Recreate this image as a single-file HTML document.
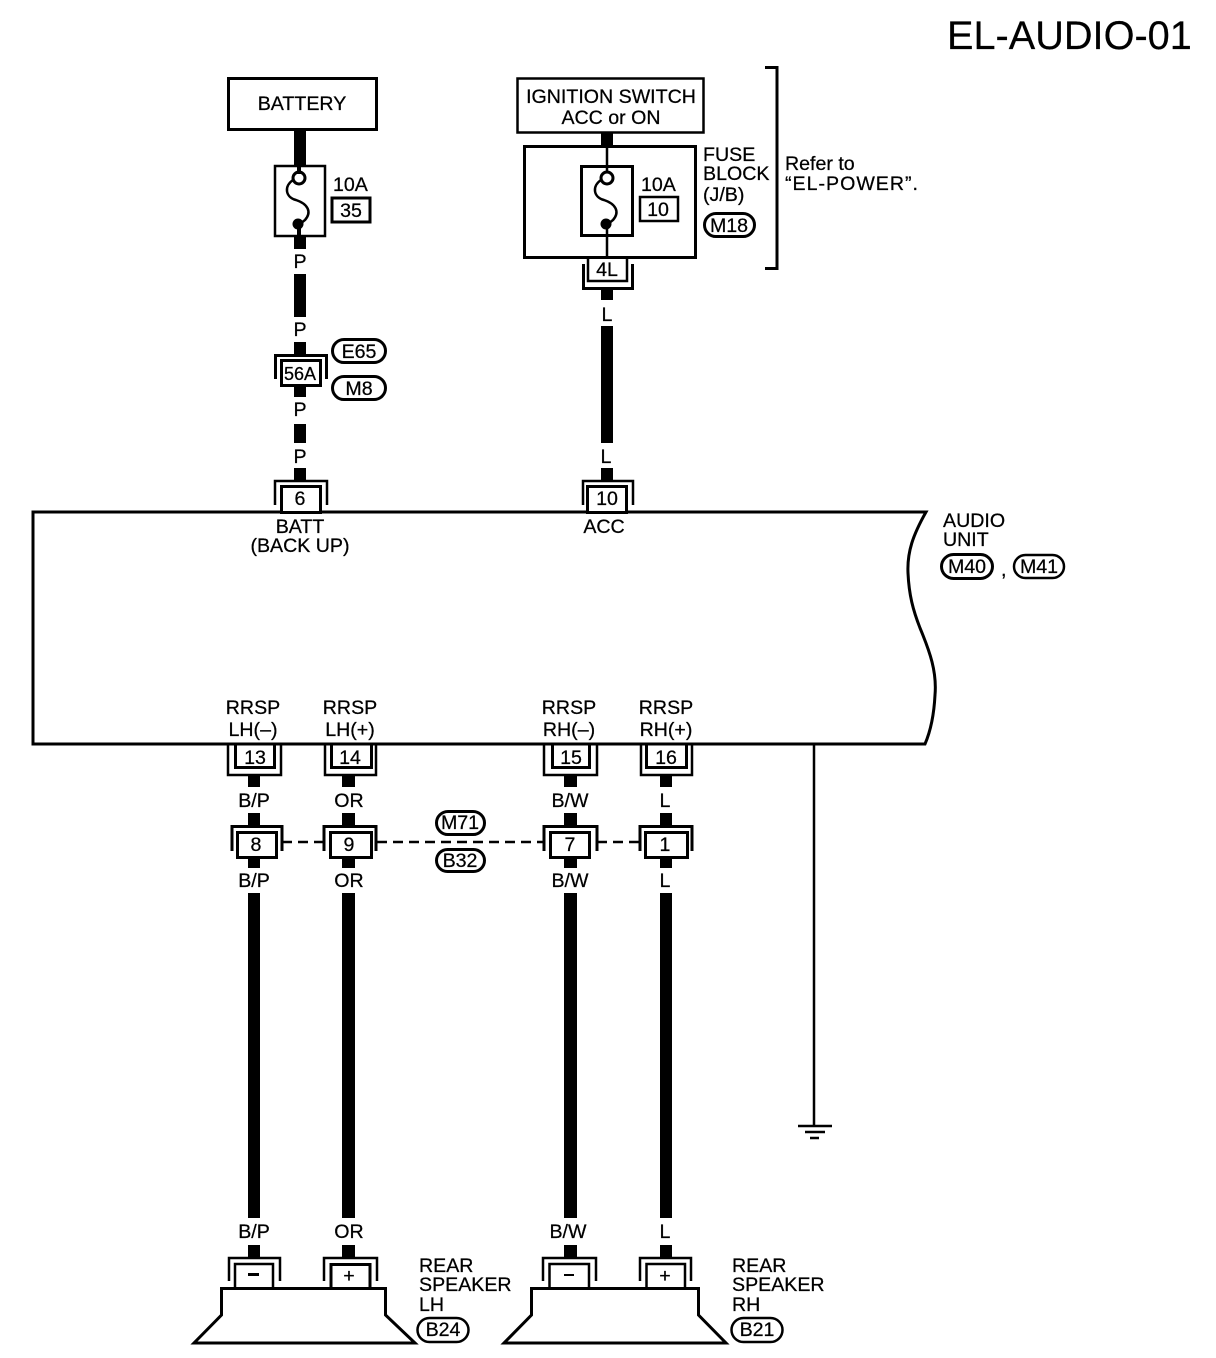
<!DOCTYPE html>
<html><head><meta charset="utf-8"><style>
html,body{margin:0;padding:0;background:#fff}
svg{display:block}
text{font-family:"Liberation Sans",sans-serif;font-size:19.6px;fill:#000;stroke:#000;stroke-width:.25}
.m{text-anchor:middle}
.l{fill:none;stroke:#000;stroke-width:3}
.t{fill:none;stroke:#000;stroke-width:2.500}
.b{fill:#fff;stroke:#000;stroke-width:3}
.w{fill:#000}
</style></head><body>
<svg width="1216" height="1358" viewBox="0 0 1216 1358" xmlns="http://www.w3.org/2000/svg">
<text x="947" y="49" style="font-size:39.700px;stroke-width:.2">EL-AUDIO-01</text>

<!-- main unit -->
<path class="l" d="M33 512H926C913 535 907 552 908 573C909 595 913 610 920 628C930 652 937 672 935 695C934 715 931 730 925 744H33Z"/>

<!-- battery branch -->
<rect class="w" x="294" y="130" width="12" height="36"/>
<rect class="w" x="294" y="236" width="12" height="13"/>
<rect class="w" x="294" y="274" width="12" height="43"/>
<rect class="w" x="294" y="342" width="12" height="13"/>
<rect class="w" x="294" y="386" width="12" height="11"/>
<rect class="w" x="294" y="424" width="12" height="19"/>
<rect class="w" x="294" y="468" width="12" height="13"/>
<rect class="b" x="228.500" y="78.500" width="148" height="51"/>
<text class="m" x="302" y="110">BATTERY</text>
<rect class="t" x="275" y="166" width="50" height="70" fill="#fff"/>
<rect class="w" x="297" y="166" width="4" height="8"/>
<rect class="w" x="297" y="226" width="4" height="10"/>
<circle class="t" cx="299" cy="178" r="6" style="stroke-width:3"/>
<circle cx="298" cy="224" r="5.500"/>
<path class="t" style="stroke-width:2.500" d="M293 180C284 186 285 197 296 200C308 204 312 212 305 220L300 224"/>
<text x="333" y="191">10A</text>
<rect class="b" x="332" y="198" width="38" height="24"/>
<text class="m" x="351" y="217">35</text>
<text class="m" x="300" y="268">P</text>
<text class="m" x="300" y="336">P</text>
<path class="l" d="M275.500 379V355.500H326.500V379"/>
<rect class="b" x="281.500" y="360.500" width="39" height="25"/>
<text class="m" x="300" y="380" style="font-size:18px" textLength="32" lengthAdjust="spacingAndGlyphs">56A</text>
<path class="t" d="M275 505V481H327V505"/>
<rect class="b" x="281.500" y="486.500" width="39" height="26"/>
<text class="m" x="300" y="505">6</text>
<text class="m" x="300" y="416">P</text>
<text class="m" x="300" y="463">P</text>
<text class="m" x="300" y="533">BATT</text>
<text class="m" x="300" y="552">(BACK UP)</text>
<rect class="b" x="332.500" y="339.500" width="53" height="23" rx="11.500"/>
<text class="m" x="359" y="358">E65</text>
<rect class="b" x="332.500" y="376.500" width="53" height="23" rx="11.500"/>
<text class="m" x="359" y="395">M8</text>

<!-- ignition branch -->
<rect class="w" x="601" y="133" width="12" height="12"/>
<rect class="w" x="601" y="289" width="12" height="11"/>
<rect class="w" x="601" y="326" width="12" height="117"/>
<rect class="w" x="601" y="468" width="12" height="13"/>
<rect class="t" x="517.500" y="78.500" width="186" height="54"/>
<text class="m" x="611" y="103">IGNITION SWITCH</text>
<text class="m" x="611" y="124">ACC or ON</text>
<rect class="b" x="524.500" y="146.500" width="171" height="111"/>
<path class="t" d="M607 146V172M607 228V257"/>
<rect class="l" x="581.500" y="166.500" width="51" height="69"/>
<circle class="t" cx="607" cy="178" r="6" style="stroke-width:3"/>
<circle cx="606" cy="224" r="5.500"/>
<path class="t" style="stroke-width:2.500" d="M601 180C592 186 593 197 604 200C616 204 620 212 613 220L608 224"/>
<text x="641" y="191">10A</text>
<rect class="t" x="640" y="197" width="38" height="24"/>
<text class="m" x="658" y="216">10</text>
<path class="l" d="M583.500 264V288.500H632.500V264"/>
<path class="t" d="M588 257V281H627V257"/>
<text class="m" x="607" y="276">4L</text>
<text class="m" x="607" y="321">L</text>
<text class="m" x="606" y="463">L</text>
<path class="t" d="M583 505V481H633V505"/>
<rect class="b" x="587.500" y="486.500" width="39" height="26"/>
<text class="m" x="607" y="505">10</text>
<text class="m" x="604" y="533">ACC</text>
<path class="l" d="M765 67.500H777V268.500H765"/>
<text x="703" y="161">FUSE</text>
<text x="703" y="180">BLOCK</text>
<text x="703" y="201">(J/B)</text>
<rect class="b" x="704.500" y="213.500" width="50" height="23" rx="11.500"/>
<text class="m" x="729" y="232">M18</text>
<text x="785" y="170">Refer to</text>
<text x="785" y="190" textLength="133">“EL-POWER”.</text>

<!-- audio unit label -->
<text x="943" y="527">AUDIO</text>
<text x="943" y="546">UNIT</text>
<rect class="b" x="941.500" y="554.500" width="51" height="24" rx="12"/>
<text class="m" x="967" y="573">M40</text>
<text x="1001" y="576">,</text>
<rect class="t" x="1014" y="555" width="50" height="23" rx="11.500"/>
<text class="m" x="1039" y="573">M41</text>

<!-- labels above lower connectors -->
<text class="m" x="253" y="714">RRSP</text><text class="m" x="253" y="736">LH(–)</text>
<text class="m" x="350" y="714">RRSP</text><text class="m" x="350" y="736">LH(+)</text>
<text class="m" x="569" y="714">RRSP</text><text class="m" x="569" y="736">RH(–)</text>
<text class="m" x="666" y="714">RRSP</text><text class="m" x="666" y="736">RH(+)</text>

<!-- lower wires -->
<g class="w">
<rect x="248" y="776" width="12" height="11"/><rect x="248" y="813" width="12" height="13"/><rect x="248" y="858" width="12" height="10"/><rect x="248" y="893" width="12" height="325"/><rect x="248" y="1245" width="12" height="13"/>
<rect x="342" y="776" width="13" height="11"/><rect x="342" y="813" width="13" height="13"/><rect x="342" y="858" width="13" height="10"/><rect x="342" y="893" width="13" height="325"/><rect x="342" y="1245" width="13" height="13"/>
<rect x="564" y="776" width="13" height="11"/><rect x="564" y="813" width="13" height="13"/><rect x="564" y="858" width="13" height="10"/><rect x="564" y="893" width="13" height="325"/><rect x="564" y="1245" width="13" height="13"/>
<rect x="660" y="776" width="12" height="11"/><rect x="660" y="813" width="12" height="13"/><rect x="660" y="858" width="12" height="10"/><rect x="660" y="893" width="12" height="325"/><rect x="660" y="1245" width="12" height="13"/>
</g>

<!-- tier 1 connectors -->
<g>
<path class="t" d="M228 745V775H281V745"/><path class="l" d="M235.500 745V767.500H274.500V745"/><text class="m" x="255" y="764">13</text>
<path class="t" d="M325 745V775H376V745"/><path class="l" d="M331.500 745V767.500H371.500V745"/><text class="m" x="350" y="764">14</text>
<path class="t" d="M544 745V775H597V745"/><path class="l" d="M552.500 745V767.500H589.500V745"/><text class="m" x="571" y="764">15</text>
<path class="t" d="M641 745V775H692V745"/><path class="l" d="M646.500 745V767.500H686.500V745"/><text class="m" x="666" y="764">16</text>
</g>
<text class="m" x="254" y="807">B/P</text>
<text class="m" x="349" y="807">OR</text>
<text class="m" x="570" y="807">B/W</text>
<text class="m" x="665" y="807">L</text>

<!-- dashed -->
<path class="t" stroke-dasharray="10 6" d="M282 842H323M377 842H543M597 842H640"/>

<!-- tier 2 connectors -->
<path class="l" d="M232 851V826.500H282V851"/><rect class="b" x="237.500" y="832.500" width="39" height="25"/><text class="m" x="256" y="851">8</text>
<path class="l" d="M324 851V826.500H376V851"/><rect class="b" x="330.500" y="832.500" width="41" height="25"/><text class="m" x="349" y="851">9</text>
<path class="l" d="M544 851V826.500H597V851"/><rect class="b" x="550.500" y="832.500" width="39" height="25"/><text class="m" x="570" y="851">7</text>
<path class="l" d="M640 851V826.500H692V851"/><rect class="b" x="645.500" y="832.500" width="42" height="25"/><text class="m" x="665" y="851">1</text>
<rect class="b" x="436.500" y="811.500" width="48" height="23" rx="11.500"/><text class="m" x="460" y="829">M71</text>
<rect class="b" x="436.500" y="849.500" width="48" height="22" rx="11"/><text class="m" x="460" y="867">B32</text>

<text class="m" x="254" y="887">B/P</text>
<text class="m" x="349" y="887">OR</text>
<text class="m" x="570" y="887">B/W</text>
<text class="m" x="665" y="887">L</text>

<!-- ground -->
<path class="t" d="M814 745V1126"/>
<path class="t" d="M798 1126H832M805 1132H825"/>
<path class="t" d="M810 1138H819"/>

<text class="m" x="254" y="1238">B/P</text>
<text class="m" x="349" y="1238">OR</text>
<text class="m" x="568" y="1238">B/W</text>
<text class="m" x="665" y="1238">L</text>

<!-- speaker LH -->
<path class="l" d="M221.500 1288.500H385.500V1315L415 1343H194L221.500 1315Z" style="stroke-linejoin:miter"/>
<path class="t" d="M229 1281V1258H280V1281"/>
<path class="t" d="M235 1288V1264H273V1288"/>
<rect class="w" x="248" y="1273" width="11" height="3"/>
<path class="t" d="M324 1281V1258H377V1281"/>
<path class="l" d="M331 1288V1264.500H370V1288"/>
<text class="m" x="349" y="1282">+</text>
<text x="419" y="1272">REAR</text>
<text x="419" y="1291">SPEAKER</text>
<text x="419" y="1311">LH</text>
<rect class="t" x="417.500" y="1318" width="51" height="24" rx="12"/>
<text class="m" x="443" y="1336">B24</text>

<!-- speaker RH -->
<path class="l" d="M531.500 1288.500H698.500V1315L726 1343H504L531.500 1315Z"/>
<path class="t" d="M543 1281V1258H596V1281"/>
<path class="t" d="M549.500 1288V1264H589V1288"/>
<rect class="w" x="564" y="1274" width="10" height="2"/>
<path class="t" d="M640 1281V1258H691V1281"/>
<path class="t" d="M646.500 1288V1264H685V1288"/>
<text class="m" x="665" y="1282">+</text>
<text x="732" y="1272">REAR</text>
<text x="732" y="1291">SPEAKER</text>
<text x="732" y="1311">RH</text>
<rect class="t" x="731.500" y="1318" width="51" height="24" rx="12"/>
<text class="m" x="757" y="1336">B21</text>
</svg>
</body></html>
